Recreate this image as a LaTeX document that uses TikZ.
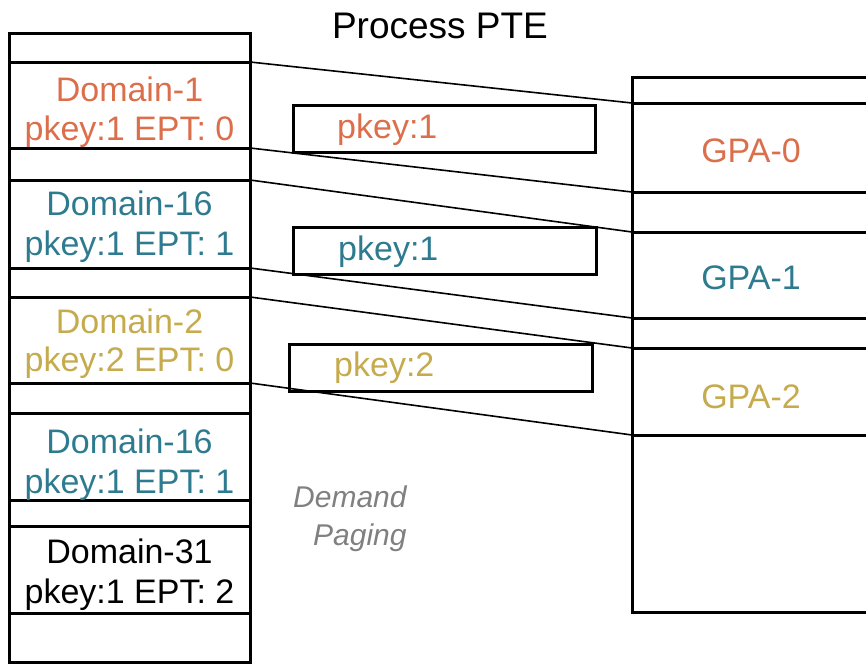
\documentclass[tikz,border=0pt]{standalone}
\usepackage{fontspec}
\setmainfont{Liberation Sans}
\definecolor{domorange}{HTML}{DC6F4B}
\definecolor{domteal}{HTML}{2E7B90}
\definecolor{domgold}{HTML}{C5AB4D}
\definecolor{notegray}{HTML}{808080}
\begin{document}
\begin{tikzpicture}[x=1pt,y=-1pt,
  cell/.style={draw, line width=3pt, rectangle, inner sep=0pt, outer sep=0pt, anchor=north west},
  lcell/.style={cell, minimum width=241pt},
  rcell/.style={cell, minimum width=260pt},
  keybox/.style={draw, line width=3pt, rectangle, inner sep=0pt, outer sep=0pt, anchor=north west, minimum width=302pt, minimum height=47pt},
  link/.style={line width=1.6pt},
  lbl/.style={inner sep=0pt, anchor=base, font=\fontsize{34}{40}\selectfont},
  keylbl/.style={inner sep=0pt, anchor=base west, font=\fontsize{34}{40}\selectfont},
  note/.style={inner sep=0pt, anchor=base west, text=notegray, font=\fontsize{30}{35}\selectfont\itshape}
]
\useasboundingbox (0,0) rectangle (866,664);
\clip (0,0) rectangle (866,664);

% title
\node[inner sep=0pt, anchor=base, font=\fontsize{37}{43}\selectfont] (title) at (440,38) {Process PTE};

% process page table (left column)
\node[lcell, minimum height=29pt] (L0) at (9,33) {};
\node[lcell, minimum height=86pt] (D1) at (9,62) {};
\node[lcell, minimum height=32pt] (L2) at (9,148) {};
\node[lcell, minimum height=88pt] (D16a) at (9,180) {};
\node[lcell, minimum height=29pt] (L4) at (9,268) {};
\node[lcell, minimum height=86pt] (D2) at (9,297) {};
\node[lcell, minimum height=30pt] (L6) at (9,383) {};
\node[lcell, minimum height=87pt] (D16b) at (9,413) {};
\node[lcell, minimum height=26pt] (L8) at (9,500) {};
\node[lcell, minimum height=87pt] (D31) at (9,526) {};
\node[lcell, minimum height=49pt] (L10) at (9,613) {};

\node[lbl, text=domorange] (d1a) at (129.5,101) {Domain-1};
\node[lbl, text=domorange] (d1b) at (129.5,140) {pkey:1 EPT: 0};
\node[lbl, text=domteal] (d16aa) at (129.5,215) {Domain-16};
\node[lbl, text=domteal] (d16ab) at (129.5,255) {pkey:1 EPT: 1};
\node[lbl, text=domgold] (d2a) at (129.5,333) {Domain-2};
\node[lbl, text=domgold] (d2b) at (129.5,371) {pkey:2 EPT: 0};
\node[lbl, text=domteal] (d16ba) at (129.5,453) {Domain-16};
\node[lbl, text=domteal] (d16bb) at (129.5,493) {pkey:1 EPT: 1};
\node[lbl] (d31a) at (129.5,563) {Domain-31};
\node[lbl] (d31b) at (129.5,603) {pkey:1 EPT: 2};

% guest physical pages (right column)
\node[rcell, minimum height=26pt] (R0) at (632,77) {};
\node[rcell, minimum height=89pt] (G0) at (632,103) {};
\node[rcell, minimum height=40pt] (R2) at (632,192) {};
\node[rcell, minimum height=86pt] (G1) at (632,232) {};
\node[rcell, minimum height=30pt] (R4) at (632,318) {};
\node[rcell, minimum height=87pt] (G2) at (632,348) {};
\node[rcell, minimum height=177pt] (R6) at (632,435) {};

\node[lbl, text=domorange] (g0t) at (751,162) {GPA-0};
\node[lbl, text=domteal] (g1t) at (751,289) {GPA-1};
\node[lbl, text=domgold] (g2t) at (751,408) {GPA-2};

% protection key boxes
\node[keybox] (P1) at (293,105) {};
\node[keybox, minimum width=303pt] (P2) at (293,227) {};
\node[keybox, minimum width=303pt] (P3) at (289,344) {};
\node[keylbl, text=domorange] (p1t) at (337,138) {pkey:1};
\node[keylbl, text=domteal] (p2t) at (338,260) {pkey:1};
\node[keylbl, text=domgold] (p3t) at (334,376) {pkey:2};

% mappings
\draw[link] (D1.north east) -- (G0.north west);
\draw[link] (D1.south east) -- (G0.south west);
\draw[link] (D16a.north east) -- (G1.north west);
\draw[link] (D16a.south east) -- (G1.south west);
\draw[link] (D2.north east) -- (G2.north west);
\draw[link] (D2.south east) -- (G2.south west);

% note
\node[note] (dp1) at (293,507) {Demand};
\node[note] (dp2) at (313,545) {Paging};
\end{tikzpicture}
\end{document}
